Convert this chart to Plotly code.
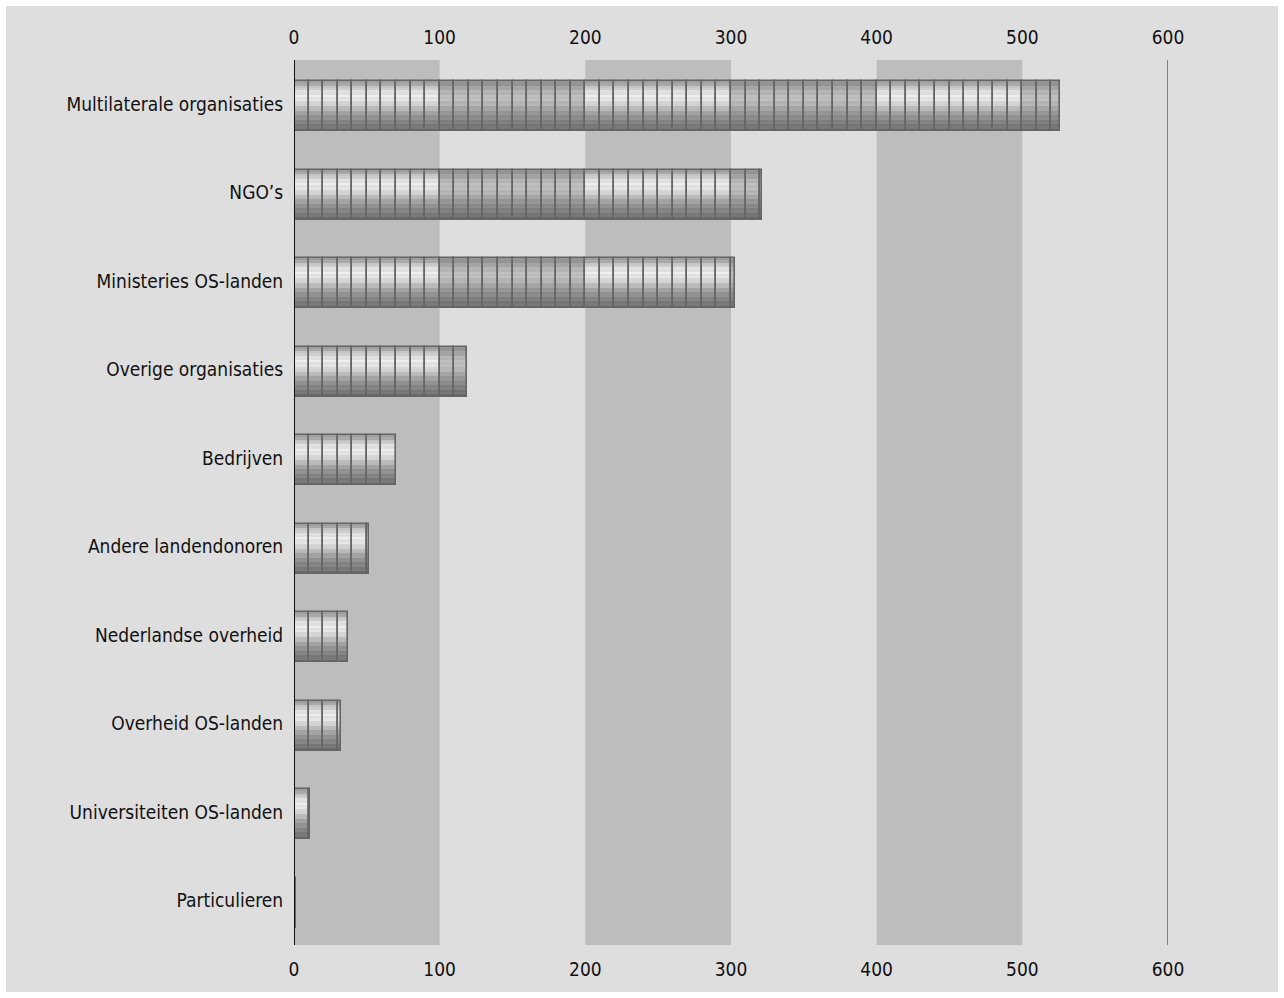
import plotly.graph_objects as go

# Categories (top to bottom) and their amounts
categories = [
    "Multilaterale organisaties",
    "NGO’s",
    "Ministeries OS-landen",
    "Overige organisaties",
    "Bedrijven",
    "Andere landendonoren",
    "Nederlandse overheid",
    "Overheid OS-landen",
    "Universiteiten OS-landen",
    "Particulieren",
]
values = [526, 321, 303, 119, 70, 51.5, 37, 32, 11, 1.5]

tick_values = [0, 100, 200, 300, 400, 500, 600]

FONT = "Liberation Sans Narrow, DejaVu Sans Condensed, Roboto Condensed, Arial Narrow, sans-serif"
COIN = 10          # each coin stands for 10 units
BAR_W = 0.565      # bar thickness in category units
BAR_SHIFT = 0.02   # nudges the coin stacks slightly downward
N_STRIPS = 22

# vertical shading profile of a coin (top -> bottom), grey levels
bright_profile = [(0.0, 145), (0.08, 180), (0.18, 218), (0.3, 234), (0.42, 222),
                  (0.52, 194), (0.62, 166), (0.72, 146), (0.84, 130), (1.0, 108)]
muted_profile = [(0.0, 142), (0.1, 158), (0.22, 182), (0.34, 192), (0.46, 182),
                 (0.56, 162), (0.68, 144), (0.82, 128), (1.0, 108)]


def shade(profile, t):
    for (t0, g0), (t1, g1) in zip(profile[:-1], profile[1:]):
        if t0 <= t <= t1:
            return g0 + (g1 - g0) * (t - t0) / (t1 - t0)
    return profile[-1][1]


# split each bar into coins
coins = {"bright": ([], [], []), "muted": ([], [], [])}
all_coins = ([], [], [])
for i, v in enumerate(values):
    start = 0.0
    while start < v - 1e-9:
        w = min(COIN, v - start)
        centre = start + w / 2
        kind = "bright" if int(centre // 100) % 2 == 0 else "muted"
        for lst, val in zip(coins[kind], (i, start, w)):
            lst.append(val)
        for lst, val in zip(all_coins, (i, start, w)):
            lst.append(val)
        start += COIN

fig = go.Figure()

h = BAR_W / N_STRIPS
top = -BAR_W / 2 + BAR_SHIFT
for kind, profile in (("bright", bright_profile), ("muted", muted_profile)):
    ys, bases, widths = coins[kind]
    if not ys:
        continue
    for k in range(N_STRIPS):
        t = (k + 0.5) / N_STRIPS
        g = shade(profile, t) + (5 if k % 2 == 0 else -5)
        g = int(max(0, min(255, g)))
        fig.add_trace(go.Bar(
            orientation="h", y=ys, x=widths, base=bases,
            width=h * 1.05, offset=top + k * h,
            marker=dict(color=f"rgb({g},{g},{g})", line=dict(width=0)),
            showlegend=False, hoverinfo="skip",
        ))

# coin outlines
ys, bases, widths = all_coins
fig.add_trace(go.Bar(
    orientation="h", y=ys, x=widths, base=bases,
    width=BAR_W, offset=top,
    marker=dict(color="rgba(0,0,0,0)", line=dict(color="#656565", width=1.6)),
    showlegend=False, hoverinfo="skip",
))
# invisible trace tying the top axis
fig.add_trace(go.Scatter(x=[0, 600], y=[0, 0], xaxis="x2", mode="markers",
                         marker=dict(opacity=0), showlegend=False, hoverinfo="skip"))

shapes = [
    # grey panel inside the white frame
    dict(type="rect", xref="paper", yref="paper", x0=-0.3295, x1=1.1259,
         y0=-0.0531, y1=1.0610, fillcolor="#dedede", line=dict(width=0), layer="below"),
]
for b0 in (0, 200, 400):
    shapes.append(dict(type="rect", xref="x", yref="paper", x0=b0, x1=b0 + 100,
                       y0=0, y1=1, fillcolor="#bdbdbd", line=dict(width=0), layer="below"))
shapes.append(dict(type="line", xref="x", yref="paper", x0=600, x1=600, y0=0, y1=1,
                   line=dict(color="#444444", width=1.2), layer="below"))
shapes.append(dict(type="line", xref="x", yref="paper", x0=0, x1=0, y0=0, y1=1,
                   line=dict(color="#111111", width=2), layer="above"))

axis_common = dict(range=[0, 600], tickvals=tick_values, showgrid=False, zeroline=False,
                   showline=False, ticks="outside", ticklen=7, tickcolor="rgba(0,0,0,0)",
                   tickfont=dict(family=FONT, size=19, color="#111111"), fixedrange=True)

fig.update_layout(
    width=1284, height=998,
    margin=dict(l=294, r=116, t=60, b=53, pad=0),
    paper_bgcolor="white", plot_bgcolor="rgba(0,0,0,0)",
    barmode="overlay", bargap=0,
    xaxis=dict(**axis_common, side="bottom"),
    xaxis2=dict(**axis_common, side="top", overlaying="x", matches="x"),
    yaxis=dict(range=[len(categories) - 0.5, -0.5], tickvals=list(range(len(categories))),
               ticktext=categories, showgrid=False, zeroline=False, showline=False,
               ticks="outside", ticklen=6, tickcolor="rgba(0,0,0,0)",
               tickfont=dict(family=FONT, size=19, color="#111111"), fixedrange=True),
    shapes=shapes,
    font=dict(family=FONT),
)

fig.write_html("out.html")
